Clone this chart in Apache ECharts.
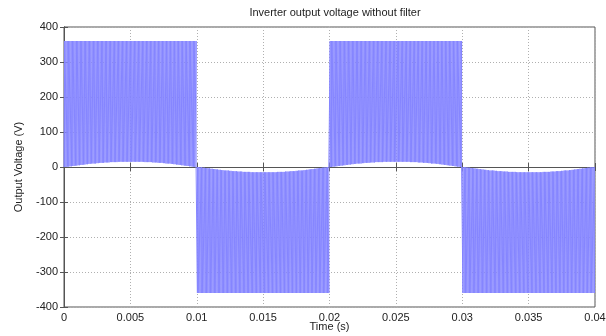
<!DOCTYPE html>
<html><head><meta charset="utf-8">
<script src="https://cdn.jsdelivr.net/npm/echarts@6/dist/echarts.min.js"></script>
<style>html,body{margin:0;padding:0;background:#fff}#c{width:606px;height:336px}</style>
</head><body><div id="c"></div>
<script>
// Per carrier period duty ratio within one half cycle (100 periods per half cycle)
var duty = [0.01,0.04,0.07,0.10,0.13,0.15,0.18,0.21,0.24,0.26,0.29,0.32,0.34,0.37,0.40,0.42,0.45,0.47,0.49,0.52,
            0.54,0.56,0.58,0.61,0.63,0.65,0.67,0.68,0.70,0.72,0.74,0.75,0.77,0.78,0.80,0.81,0.82,0.83,0.84,0.85,
            0.86,0.87,0.88,0.88,0.89,0.89,0.89,0.90,0.90,0.90,
            0.90,0.90,0.90,0.89,0.89,0.89,0.88,0.88,0.87,0.86,0.85,0.84,0.83,0.82,0.81,0.80,0.78,0.77,0.75,0.74,
            0.72,0.70,0.68,0.67,0.65,0.63,0.61,0.58,0.56,0.54,0.52,0.49,0.47,0.45,0.42,0.40,0.37,0.34,0.32,0.29,
            0.26,0.24,0.21,0.18,0.15,0.13,0.10,0.07,0.04,0.01];
// Lower envelope (off level) seen in the picture across one half cycle, volts
var offLevel = [0,1,2,3,4,5,6,7,8,9,10,10,11,12,12,13,13,14,14,14,15,15,15,15,15,
                15,15,15,15,15,14,14,14,13,13,12,12,11,10,10,9,8,7,6,5,4,3,2,1,0];
var halfSigns = [1,-1,1,-1];
var peakVoltage = 360;
var halfPeriod = 0.01;
var xTicks = ['0','0.005','0.01','0.015','0.02','0.025','0.03','0.035','0.04'];

var N = duty.length, T = halfPeriod / N;
var pts = [];
halfSigns.forEach(function(s, h){
  for (var k = 0; k < N; k++) {
    var t0 = h*halfPeriod + k*T;
    var a = t0 + (1-duty[k])*T/2, b = t0 + (1+duty[k])*T/2;
    var lo = s*offLevel[Math.floor(k*offLevel.length/N)], hi = s*peakVoltage;
    pts.push([t0, lo],[a, lo],[a, hi],[b, hi],[b, lo]);
  }
});
pts.push([0.04, 0]);

var font = 'Liberation Sans, Arial, sans-serif';
var gridLine = {show:true, lineStyle:{color:'#b0b0b0', type:[1,2], width:1}};
var chart = echarts.init(document.getElementById('c'), null, {renderer:'canvas'});
chart.setOption({
  animation:false,
  title:{text:'Inverter output voltage without filter', left:330, textAlign:'center', top:2,
         textStyle:{fontFamily:font, fontSize:11, fontWeight:'normal', color:'#222'}},
  grid:{left:64, right:11, top:27, bottom:29, show:true, borderColor:'#555', borderWidth:1,
        outerBoundsMode:'none', containLabel:false},
  xAxis:[{type:'value', min:0, max:0.04, interval:0.005,
    name:'Time (s)', nameLocation:'middle', nameGap:14, nameMoveOverlap:false,
    nameTextStyle:{fontFamily:font, fontSize:11, color:'#222', verticalAlign:'top'},
    axisLine:{show:true, lineStyle:{color:'#555'}},
    axisTick:{show:true, inside:true, length:4, lineStyle:{color:'#555'}},
    axisLabel:{fontFamily:font, fontSize:11, color:'#222', margin:5,
      formatter:function(v){ var i=Math.round(v/0.005); return xTicks[i]; }},
    splitLine:gridLine},
   {type:'value', position:'top', min:0, max:0.04, interval:0.005,
    axisLine:{show:true, lineStyle:{color:'#555'}},
    axisTick:{show:true, inside:true, length:4, lineStyle:{color:'#555'}},
    axisLabel:{show:false}, splitLine:{show:false}}],
  yAxis:[{type:'value', min:-400, max:400, interval:100,
    name:'Output Voltage (V)', nameLocation:'middle', nameGap:40, nameMoveOverlap:false,
    nameTextStyle:{fontFamily:font, fontSize:11, color:'#222'},
    axisLine:{show:true, lineStyle:{color:'#555'}},
    axisTick:{show:true, inside:true, length:4, lineStyle:{color:'#555'}},
    axisLabel:{fontFamily:font, fontSize:11, color:'#222', margin:6},
    splitLine:gridLine},
   {type:'value', position:'right', min:-400, max:400, interval:100,
    axisLine:{show:true, lineStyle:{color:'#555'}},
    axisTick:{show:true, inside:true, length:4, lineStyle:{color:'#555'}},
    axisLabel:{show:false}, splitLine:{show:false}}],
  series:[{type:'line', data:pts, showSymbol:false, symbol:'none', sampling:null,
    lineStyle:{color:'#8585ff', width:1}, silent:true}]
});
</script></body></html>
